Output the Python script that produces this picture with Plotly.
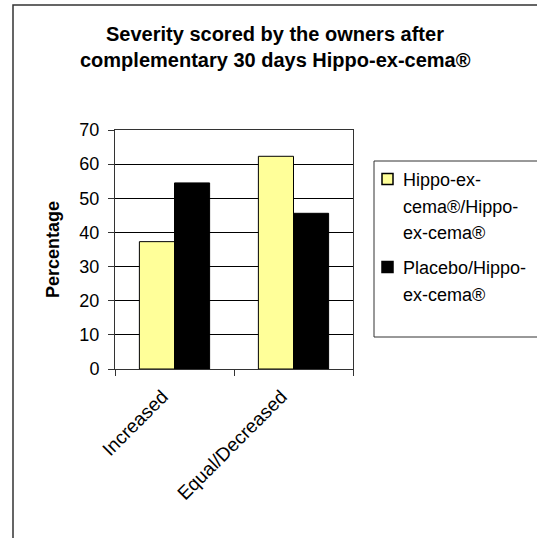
import plotly.graph_objects as go

categories = ["Increased", "Equal/Decreased"]
series_names = ["Hippo-ex-cema®/Hippo-ex-cema®", "Placebo/Hippo-ex-cema®"]
legend_lines = [["Hippo-ex-", "cema®/Hippo-", "ex-cema®"], ["Placebo/Hippo-", "ex-cema®"]]
title_lines = ["Severity scored by the owners after", "complementary 30 days Hippo-ex-cema®"]
hippo_values = [37.3, 62.3]
placebo_values = [54.5, 45.6]
colors = ["#FFFF99", "#000000"]

W, H = 537, 538
L, R, T, B = 115, 353, 130, 369

def px(x):
    return (x - L) / (R - L)

def py(y):
    return (B - y) / (B - T)

FONT = "Liberation Sans, Arial, sans-serif"

fig = go.Figure()
for name, vals, col in zip(series_names, [hippo_values, placebo_values], colors):
    fig.add_trace(go.Bar(x=categories, y=vals, name=name,
                         marker=dict(color=col, line=dict(color="#000000", width=1))))

fig.update_layout(
    width=W, height=H,
    margin=dict(l=L, r=W - R, t=T, b=H - B),
    paper_bgcolor="white", plot_bgcolor="white",
    barmode="group", bargap=0.41, bargroupgap=0,
    showlegend=False,
    font=dict(family=FONT, size=18, color="black"),
)
fig.update_yaxes(range=[0, 70], dtick=10, showgrid=True, gridcolor="#000000", gridwidth=1,
                 ticks="outside", ticklen=6, tickcolor="#333", showline=True, linecolor="#333",
                 linewidth=1, mirror=True, zeroline=False, ticklabelstandoff=5,
                 tickfont=dict(size=18, family=FONT),
                 title=dict(text="<b>Percentage</b>", font=dict(size=18, family=FONT), standoff=15))
fig.update_xaxes(tickangle=-45, ticks="outside", tickson="boundaries", ticklen=6, tickcolor="#333",
                 showline=True, linecolor="#333", linewidth=1, mirror=True,
                 ticklabelstandoff=8, ticklabelshift=-12,
                 tickfont=dict(size=19, family=FONT))

# title
for t, yy in zip(title_lines, [34, 60]):
    fig.add_annotation(text="<b>%s</b>" % t, xref="paper", yref="paper",
                       x=px(275), y=py(yy), xanchor="center", yanchor="middle",
                       showarrow=False, font=dict(size=20, family=FONT))

# outer chart border
fig.add_shape(type="rect", xref="paper", yref="paper", x0=px(13), x1=px(600), y0=py(600), y1=py(5),
              line=dict(color="#333", width=1.5), layer="below")

# legend box
fig.add_shape(type="rect", xref="paper", yref="paper", x0=px(374), x1=px(600), y0=py(337), y1=py(161),
              line=dict(color="#333", width=1), fillcolor="white")
line_y = [[180, 207, 233], [268, 295]]
sq_y = [179, 267]
for i, (lines, col) in enumerate(zip(legend_lines, colors)):
    fig.add_shape(type="rect", xref="paper", yref="paper", x0=px(382), x1=px(393),
                  y0=py(sq_y[i] + 5.5), y1=py(sq_y[i] - 5.5),
                  line=dict(color="#000", width=1.5), fillcolor=col)
    for j, t in enumerate(lines):
        fig.add_annotation(text=t, xref="paper", yref="paper", x=px(401), y=py(line_y[i][j]),
                           xanchor="left", yanchor="middle", showarrow=False,
                           font=dict(size=18, family=FONT))

fig.write_html("out.html", config={"displayModeBar": False},
               post_script="document.body.style.margin='0';document.body.style.overflow='hidden';")
